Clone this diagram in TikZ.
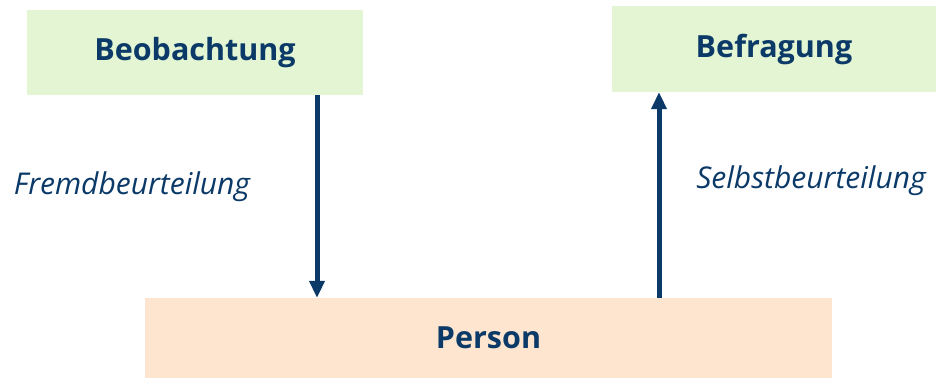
\documentclass[tikz,border=0pt]{standalone}
\usepackage{fontspec}
\setmainfont{Open Sans}
\usepackage{xcolor}
\definecolor{navy}{HTML}{0B3A68}
\definecolor{leaf}{HTML}{E3F5D2}
\definecolor{peach}{HTML}{FDE5CF}
\usetikzlibrary{arrows.meta,positioning,calc}

\begin{document}
\begin{tikzpicture}[
  x=1pt, y=-1pt,
  method/.style={fill=leaf, minimum height=85pt, align=center, text=navy, font=\fontsize{30.5}{35}\selectfont\bfseries},
  who/.style={fill=peach, minimum width=687pt, minimum height=80pt, text=navy, font=\fontsize{30.5}{35}\selectfont\bfseries},
  judge/.style={text=navy, font=\fontsize{30}{35}\selectfont\itshape},
  arrow/.style={-{Triangle[length=17pt,width=15pt]}, line width=5pt, navy}
]
  \useasboundingbox (0,0) rectangle (946,378);

  % Methods
  \node[method, minimum width=336pt] (beob) at (195, 52.5) {Beobachtung};
  \node[method, minimum width=324pt, minimum height=86pt] (befr) at (774, 49) {Befragung};

  % Person
  \node[who] (person) at (488.5, 338) {Person};

  % Kinds of judgement
  \node[judge] (fremd) at (132, 187) {Fremdbeurteilung};
  \node[judge] (selbst) at (811, 181) {Selbstbeurteilung};

  % Arrows
  \draw[arrow] ([xshift=122pt]beob.south) -- ([xshift=122pt]beob.south |- person.north);
  \draw[arrow] ([xshift=-115pt]befr.south |- person.north) -- ([xshift=-115pt]befr.south);
\end{tikzpicture}
\end{document}
